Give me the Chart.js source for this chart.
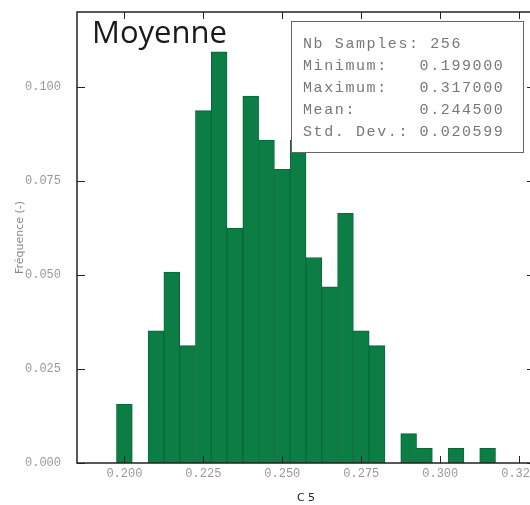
<!DOCTYPE html>
<html>
<head>
<meta charset="utf-8">
<script src="https://cdn.jsdelivr.net/npm/chart.js@4.4.1/dist/chart.umd.min.js"></script>
<style>
  html, body { margin: 0; padding: 0; background: #fff; overflow: hidden; }
  #wrap { width: 545px; height: 505px; }
</style>
</head>
<body>
<div id="wrap"><canvas id="histo" width="545" height="505"></canvas></div>
<script>
// bin centres (C) and number of samples per bin
const binCenters = [0.200, 0.210, 0.215, 0.220, 0.225, 0.230, 0.235, 0.240, 0.245, 0.250,
                    0.255, 0.260, 0.265, 0.270, 0.275, 0.280, 0.290, 0.295, 0.305, 0.315]
const binCounts = [4, 9, 13, 8, 24, 28, 16, 25, 22, 20,
                   22, 14, 12, 17, 9, 8, 2, 1, 1, 1]
const nbSamples = 256
const xTickValues = [0.200, 0.225, 0.250, 0.275, 0.300, 0.325]
const yTickValues = [0.000, 0.025, 0.050, 0.075, 0.100]
const statLabels = ['Nb Samples: ', 'Minimum:   ', 'Maximum:   ', 'Mean:      ', 'Std. Dev.: ']
const statValues = ['256', '0.199000', '0.317000', '0.244500', '0.020599']

const points = binCenters.map((c, i) => ({x: c, y: binCounts[i] / nbSamples}))

// frame, inward ticks, title and stats box
const decorPlugin = {
    id: 'decor',
    afterDraw(chart) {
        const ctx = chart.ctx
        const a = chart.chartArea
        const xs = chart.scales.x
        const ys = chart.scales.y
        ctx.save()
        ctx.strokeStyle = '#222'
        ctx.lineWidth = 1.5
        ctx.strokeRect(a.left, a.top, a.right - a.left, a.bottom - a.top)

        ctx.lineWidth = 1
        ctx.beginPath()
        xTickValues.forEach(v => {
            const px = Math.round(xs.getPixelForValue(v)) + 0.5
            ctx.moveTo(px, a.bottom); ctx.lineTo(px, a.bottom - 7)
            ctx.moveTo(px, a.top); ctx.lineTo(px, a.top + 7)
        })
        yTickValues.forEach(v => {
            const py = Math.round(ys.getPixelForValue(v)) + 0.5
            ctx.moveTo(a.left, py); ctx.lineTo(a.left + 8, py)
            ctx.moveTo(a.right, py); ctx.lineTo(a.right - 8, py)
        })
        ctx.stroke()

        // big title inside the plot
        ctx.fillStyle = '#1a1a1a'
        ctx.font = '31px "Open Sans"'
        ctx.textBaseline = 'alphabetic'
        ctx.fillText('Moyenne', 92, 43)

        // statistics box
        ctx.fillStyle = '#fff'
        ctx.fillRect(291, 21, 232, 131)
        ctx.strokeStyle = '#666'
        ctx.lineWidth = 1
        ctx.strokeRect(291.5, 21.5, 232, 131)
        ctx.fillStyle = '#777'
        ctx.font = '15px "Liberation Mono"'
        if ('letterSpacing' in ctx) ctx.letterSpacing = '1.6px'
        statLabels.forEach((lab, i) => {
            ctx.fillText(lab + statValues[i], 303, 48 + i * 22)
        })
        ctx.restore()
    }
}

new Chart(document.getElementById('histo'), {
    type: 'bar',
    data: {
        datasets: [{
            data: points,
            backgroundColor: '#0b7d45',
            borderColor: '#07683a',
            borderWidth: 1,
            barPercentage: 1.0,
            categoryPercentage: 1.0,
        }]
    },
    options: {
        responsive: false,
        animation: false,
        layout: {padding: {top: 12, right: 10, left: 0, bottom: 0}},
        plugins: {legend: {display: false}, tooltip: {enabled: false}},
        scales: {
            x: {
                type: 'linear',
                min: 0.185,
                max: 0.330,
                offset: false,
                afterBuildTicks: s => { s.ticks = xTickValues.map(v => ({value: v})) },
                afterFit: s => { s.height = 42; s.paddingLeft = 0; s.paddingRight = 0 },
                grid: {display: false},
                border: {display: false},
                ticks: {
                    color: '#999',
                    font: {family: 'Liberation Mono', size: 12},
                    padding: -4,
                    maxRotation: 0,
                    callback: v => v.toFixed(3),
                },
                title: {
                    display: true,
                    text: 'C 5',
                    color: '#222',
                    font: {family: 'DejaVu Sans', size: 11},
                    padding: {top: 8, bottom: 0},
                },
            },
            y: {
                min: 0,
                max: 0.12,
                afterBuildTicks: s => { s.ticks = yTickValues.map(v => ({value: v})) },
                afterFit: s => { s.width = 77; s.paddingTop = 0; s.paddingBottom = 0 },
                grid: {display: false},
                border: {display: false},
                ticks: {
                    color: '#999',
                    font: {family: 'Liberation Mono', size: 12},
                    padding: 8,
                    callback: v => v.toFixed(3),
                },
                title: {
                    display: true,
                    text: 'Fréquence (-)',
                    color: '#888',
                    font: {family: 'DejaVu Sans', size: 11},
                    padding: {top: 14, bottom: 0},
                },
            },
        },
    },
    plugins: [decorPlugin],
})
</script>
</body>
</html>
